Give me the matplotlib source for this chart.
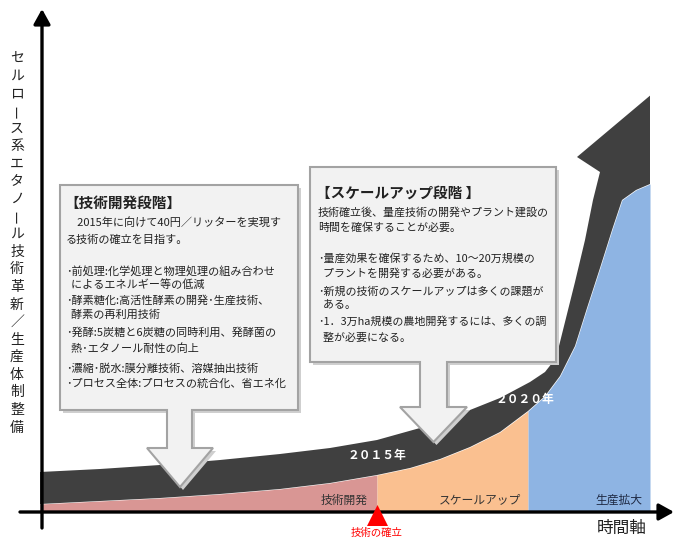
import matplotlib
matplotlib.use('Agg')
import matplotlib.pyplot as plt
from matplotlib.patches import Polygon, Rectangle
import numpy as np

plt.rcParams['font.family'] = ['Noto Sans CJK JP', 'DejaVu Sans']

# diagram is drawn in pixel space of the 681x539 picture
W, H = 681, 539

# growth band (dark curved arrow) - lower and upper edges
lower_x = [40, 100, 160, 220, 280, 330, 377, 410, 440, 470, 500, 528, 545, 560, 575, 587, 600, 612, 622, 636, 650]
lower_y = [504, 501, 498, 494, 489, 483, 475, 468, 459, 447, 432, 411, 396, 376, 346, 308, 268, 230, 200, 190, 184]
upper_x = [40, 100, 160, 220, 280, 330, 377, 420, 460, 500, 530, 545, 556, 565, 575, 585, 593]
upper_y = [472, 469, 465, 460, 454, 448, 440, 428, 414, 398, 382, 372, 358, 322, 282, 240, 200]
head_x = [600, 577, 690, 720]
head_y = [172, 157, 62, 200]

# stages along time axis
stage_edges = [40, 377, 528, 650]
stage_names = ['技術開発', 'スケールアップ', '生産拡大']
stage_colors = ['#d99694', '#fac090', '#8eb4e3']
stage_label_x = [344, 480, 619]
stage_text_colors = ['#333333', '#333333', '#1f2a44']

year_labels = ['２０１５年', '２０２０年']
year_pos = [(377, 455), (525, 399)]

ylabel = 'セルロース系エタノール技術革新／生産体制整備'
xlabel = '時間軸'
milestone = '技術の確立'

box1_title = '【技術開発段階】'
box1_lines = ['　2015年に向けて40円／リッターを実現す',
              'る技術の確立を目指す。',
              '',
              '･前処理:化学処理と物理処理の組み合わせ',
              '  によるエネルギー等の低減',
              '･酵素糖化:高活性酵素の開発･生産技術、',
              '  酵素の再利用技術',
              '･発酵:5炭糖と6炭糖の同時利用、発酵菌の',
              '  熱･エタノール耐性の向上',
              '･濃縮･脱水:膜分離技術、溶媒抽出技術',
              '･プロセス全体:プロセスの統合化、省エネ化']
box1_line_y = [222, 240, 0, 271, 285, 300, 315, 333, 349, 369, 384]

box2_title = '【スケールアップ段階 】'
box2_lines = ['技術確立後、量産技術の開発やプラント建設の',
              '時間を確保することが必要。',
              '',
              '･量産効果を確保するため、10～20万規模の',
              '  プラントを開発する必要がある。',
              '･新規の技術のスケールアップは多くの課題が',
              '  ある。',
              '･1．3万ha規模の農地開発するには、多くの調',
              '  整が必要になる。']
box2_line_y = [212, 228, 0, 258, 274, 291, 305, 321, 338]

# callout boxes: (x0, x1, y0, y1, shaft_x0, shaft_x1, head_y, head_x0, head_x1, tip_y)
box1_geom = (60, 298, 185, 410, 167, 192, 448, 147, 213, 487)
box2_geom = (310, 556, 167, 362, 420, 447, 407, 400, 467, 442)

fig = plt.figure(figsize=(W / 100, H / 100), dpi=100)
ax = fig.add_axes([0, 0, 1, 1])
ax.set_xlim(0, W)
ax.set_ylim(H, 0)
ax.axis('off')

lx = np.array(lower_x)
ly = np.array(lower_y)
for i in range(3):
    m = (lx >= stage_edges[i]) & (lx <= stage_edges[i + 1])
    ax.fill_between(lx[m], ly[m], 512, color=stage_colors[i], lw=0, zorder=1)
    ax.text(stage_label_x[i], 500, stage_names[i], ha='center', va='center',
            fontsize=8.5, color=stage_text_colors[i], zorder=4)

band_pts = list(zip(upper_x, upper_y)) + list(zip(head_x, head_y)) + list(zip(lower_x[::-1], lower_y[::-1]))
band = Polygon(band_pts, closed=True, fc='#404040', ec='none', zorder=2)
ax.add_patch(band)
clip = Rectangle((0, 0), 650, H, transform=ax.transData)
band.set_clip_path(clip)

for t, (x, y) in zip(year_labels, year_pos):
    ax.text(x, y, t, ha='center', va='center', fontsize=8.5, color='white',
            fontweight='bold', zorder=4)


def callout(g, title, lines, ys, tx, fs):
    x0, x1, y0, y1, sx0, sx1, hy, hx0, hx1, ty = g
    pts = [(x0, y0), (x1, y0), (x1, y1), (sx1, y1), (sx1, hy), (hx1, hy),
           ((hx0 + hx1) / 2, ty), (hx0, hy), (sx0, hy), (sx0, y1), (x0, y1)]
    shadow = Polygon([(px + 3, py + 3) for px, py in pts], closed=True,
                     fc='#cfcfcf', ec='none', zorder=3)
    ax.add_patch(shadow)
    ax.add_patch(Polygon(pts, closed=True, fc='#f2f2f2', ec='#a3a3a3', lw=1.5, zorder=3))
    ax.text(tx - 2, y0 + 18 if y0 > 180 else y0 + 26, title, fontsize=10.5, fontweight='bold',
            color='#222222', va='center', ha='left', zorder=4)
    for s, yy in zip(lines, ys):
        if s:
            ax.text(tx, yy, s, fontsize=fs, color='#222222', va='center', ha='left', zorder=4)


callout(box1_geom, box1_title, box1_lines, box1_line_y, 66, 8)
callout(box2_geom, box2_title, box2_lines, box2_line_y, 318, 7.9)

# axes with arrows
ap = dict(arrowstyle='-|>,head_length=0.9,head_width=0.5', lw=2.4, color='black',
          shrinkA=0, shrinkB=0, mutation_scale=10)
ax.annotate('', xy=(42, 9), xytext=(42, 528), arrowprops=ap, zorder=5)
ax.annotate('', xy=(674, 512), xytext=(20, 512), arrowprops=ap, zorder=5)

ax.text(622, 528, xlabel, ha='center', va='center', fontsize=12, color='#222222')

# y label written vertically, one character at a time
for i, ch in enumerate(ylabel):
    ax.text(17, 58 + i * 17.6, ch, ha='center', va='center', fontsize=10,
            color='#222222', rotation=90 if ch == 'ー' else 0)

# milestone marker
ax.add_patch(Polygon([(367, 526), (388, 526), (377.5, 505)], closed=True,
                     fc='#ff0000', ec='none', zorder=5))
ax.text(377, 538, milestone, ha='center', va='bottom', fontsize=7.5, color='#ff0000')

fig.savefig('out.png', dpi=100)
